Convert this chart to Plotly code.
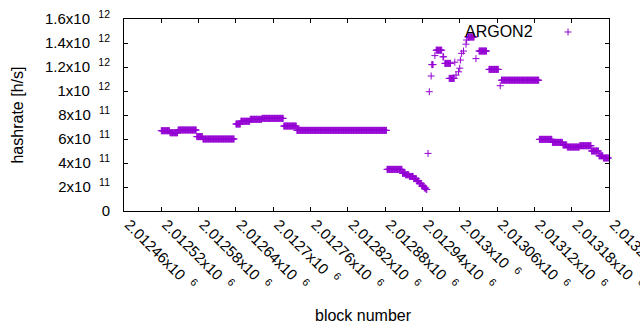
import plotly.graph_objects as go

# ---- data: runs of consecutive blocks sharing one hashrate value ----
run_first = [2012520, 2012534, 2012547, 2012577, 2012587, 2012640, 2012648, 2012663, 2012682,
             2012717, 2012738, 2012883, 2012908, 2012913, 2012919, 2012926, 2012931, 2012935,
             2012939, 2012943, 2012946, 2012949, 2012951, 2012954, 2012955, 2012960, 2012962,
             2012973, 2012976, 2012983, 2012992, 2012994, 2012998, 2013000, 2013001, 2013003,
             2013006, 2013010, 2013011, 2013013, 2013026, 2013031, 2013047, 2013065, 2013067,
             2013128, 2013149, 2013166, 2013173, 2013193, 2013212, 2013224, 2013231]
run_last = [2012533, 2012546, 2012576, 2012586, 2012637, 2012647, 2012662, 2012681, 2012716,
            2012737, 2012882, 2012907, 2012912, 2012918, 2012925, 2012930, 2012934, 2012938,
            2012942, 2012945, 2012947, 2012949, 2012951, 2012954, 2012957, 2012960, 2012971,
            2012974, 2012985, 2012991, 2012992, 2012994, 2012998, 2013000, 2013001, 2013003,
            2013006, 2013010, 2013011, 2013023, 2013026, 2013043, 2013062, 2013065, 2013127,
            2013148, 2013165, 2013172, 2013192, 2013211, 2013223, 2013230, 2013239]
run_hashrate = [6.69e11, 6.52e11, 6.75e11, 6.2e11, 6.0e11, 7.25e11, 7.48e11, 7.64e11, 7.72e11,
                7.08e11, 6.72e11, 3.47e11, 3.14e11, 3.02e11, 2.88e11, 2.7e11, 2.5e11, 2.3e11,
                2.08e11, 1.92e11, 1.8e11, 4.8e11, 0.994e12, 1.125e12, 1.22e12, 1.295e12, 1.34e12,
                1.285e12, 1.23e12, 1.105e12, 1.24e12, 1.133e12, 1.16e12, 1.19e12, 1.258e12, 1.314e12,
                1.333e12, 1.39e12, 1.425e12, 1.45e12, 1.27e12, 1.333e12, 1.18e12, 1.044e12, 1.09e12,
                5.97e11, 5.72e11, 5.5e11, 5.33e11, 5.44e11, 5.0e11, 4.6e11, 4.42e11]

NB = "\u00a0\u00a0"
x_tick_values = [2012460, 2012520, 2012580, 2012640, 2012700, 2012760, 2012820,
                 2012880, 2012940, 2013000, 2013060, 2013120, 2013180, 2013240]
x_tick_mantissa = ["2.01246", "2.01252", "2.01258", "2.01264", "2.0127", "2.01276", "2.01282",
                   "2.01288", "2.01294", "2.013", "2.01306", "2.01312", "2.01318", "2.01324"]
y_tick_values = [0, 2e11, 4e11, 6e11, 8e11, 1e12, 1.2e12, 1.4e12, 1.6e12]
y_tick_mantissa = ["0", "2", "4", "6", "8", "1", "1.2", "1.4", "1.6"]
y_tick_exponent = ["", "11", "11", "11", "11", "12", "12", "12", "12"]

x_tick_text = [m + "x10" + NB + "<sup>6</sup>" for m in x_tick_mantissa]
y_tick_text = [m if e == "" else m + "x10" + NB + "<sup>" + e + "</sup>"
               for m, e in zip(y_tick_mantissa, y_tick_exponent)]

blocks, rates = [], []
for a, b, v in zip(run_first, run_last, run_hashrate):
    for n in range(a, b + 1):
        blocks.append(n)
        rates.append(v)

PURPLE = "#9400D3"
FONT = "Liberation Sans, Arial, sans-serif"

fig = go.Figure()
fig.add_trace(go.Scatter(
    x=blocks, y=rates, mode="markers", name="ARGON2", cliponaxis=False,
    marker=dict(symbol="cross-thin", size=5, color=PURPLE,
                line=dict(width=1, color=PURPLE)),
    showlegend=False,
))

axis_common = dict(showline=True, linecolor="black", linewidth=1, mirror="ticks",
                   ticks="inside", ticklen=4, tickcolor="black", tickwidth=1,
                   showgrid=False, zeroline=False, automargin=False,
                   tickfont=dict(family=FONT, size=15, color="black"))

fig.update_xaxes(range=[2012460, 2013240], tickmode="array", tickvals=x_tick_values,
                 ticktext=x_tick_text, tickangle=45, ticklabeloverflow="allow",
                 ticklabelstandoff=-2, ticklabelshift=5, **axis_common)
fig.update_yaxes(range=[0, 1.6e12], tickmode="array", tickvals=y_tick_values,
                 ticktext=y_tick_text, ticklabelstandoff=10, **axis_common)

fig.update_layout(
    width=640, height=330,
    margin=dict(l=124, r=31, t=19, b=119, autoexpand=False),
    paper_bgcolor="white", plot_bgcolor="white",
    font=dict(family=FONT, size=16, color="black"),
    annotations=[
        dict(text="hashrate [h/s]", xref="paper", yref="paper", x=-0.2216, y=0.5,
             textangle=-90, showarrow=False, xanchor="center", yanchor="middle",
             font=dict(size=16)),
        dict(text="block number", xref="paper", yref="paper", x=0.4948, y=-0.5417,
             showarrow=False, xanchor="center", yanchor="middle", font=dict(size=16)),
        dict(text="ARGON2", xref="paper", yref="paper", x=0.8474, y=0.934,
             showarrow=False, xanchor="right", yanchor="middle", font=dict(size=16)),
    ],
    shapes=[
        dict(type="line", xref="paper", yref="paper", xsizemode="pixel", ysizemode="pixel",
             xanchor=0.9155, yanchor=0.9323, x0=-3.5, x1=3.5, y0=0, y1=0,
             line=dict(color=PURPLE, width=1)),
        dict(type="line", xref="paper", yref="paper", xsizemode="pixel", ysizemode="pixel",
             xanchor=0.9155, yanchor=0.9323, x0=0, x1=0, y0=-3.5, y1=3.5,
             line=dict(color=PURPLE, width=1)),
    ],
)

fig.write_html("out.html", post_script="document.body.style.margin='0';",
               config={"displayModeBar": False})
